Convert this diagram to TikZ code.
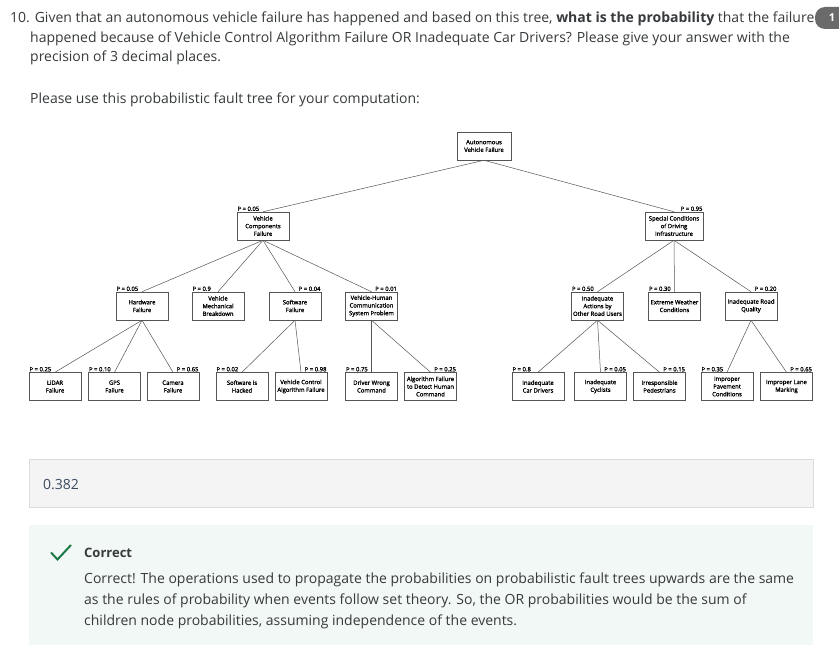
\documentclass[tikz,border=0pt]{standalone}
\usepackage{fontspec}
\setmainfont{Open Sans}
\newfontfamily\treefont[FakeBold=1.3]{Open Sans}
\definecolor{bodytxt}{HTML}{373A3C}
\definecolor{answertxt}{HTML}{3A4A5E}
\definecolor{answerbg}{HTML}{F4F4F4}
\definecolor{answerborder}{HTML}{DCDCDC}
\definecolor{feedbg}{HTML}{F2F8F5}
\definecolor{checkgreen}{HTML}{1D7A46}
\definecolor{badgegray}{HTML}{6A6A6A}
\definecolor{treeline}{HTML}{555555}
\begin{document}
\begin{tikzpicture}[x=1pt,y=-1pt,
  fbox/.style={draw=treeline, line width=0.5pt, fill=white, minimum width=52pt, minimum height=28pt,
    inner sep=0.3pt, align=center, text=black, font=\treefont\fontsize{5.9}{7.7}\selectfont},
  plab/.style={font=\treefont\fontsize{5.9}{6}\selectfont, inner sep=0.6pt, text=black},
  edge/.style={draw=treeline, line width=0.5pt},
  bodyline/.style={anchor=base west, inner sep=0pt, text=bodytxt, font=\fontsize{14}{18}\selectfont}
]
\useasboundingbox[fill=white] (0,0) rectangle (839,671);

% question text
\node[bodyline] (q1) at (10,23) {10. Given that an autonomous vehicle failure has happened and based on this tree, \textbf{what is the probability} that the failure};
\node[bodyline] (q2) at (30,42.5) {happened because of Vehicle Control Algorithm Failure OR Inadequate Car Drivers? Please give your answer with the};
\node[bodyline] (q3) at (30,62) {precision of 3 decimal places.};
\node[bodyline] (q4) at (30,104) {Please use this probabilistic fault tree for your computation:};

% badge
\fill[badgegray, rounded corners=10pt] (815,7) rectangle (860,29);
\node[text=white, font=\fontsize{11}{12}\selectfont\bfseries, inner sep=0pt] (badge) at (832,18) {1};

% tree nodes
\node[fbox, minimum width=54pt] (root) at (484,146) {Autonomous\\Vehicle Failure};
\node[fbox] (vcf) at (263,226) {Vehicle\\Components\\Failure};
\node[fbox, minimum width=58pt] (scdi) at (674,226) {Special Conditions\\of Driving\\Infrastructure};

\node[fbox] (hw) at (142,306) {Hardware\\Failure};
\node[fbox] (vmb) at (218,306) {Vehicle\\Mechanical\\Breakdown};
\node[fbox] (sf) at (295,306) {Software\\Failure};
\node[fbox] (vhc) at (371.5,306) {Vehicle-Human\\Communication\\System Problem};
\node[fbox] (iaoru) at (597.5,306) {Inadequate\\Actions by\\Other Road Users};
\node[fbox] (ew) at (674.5,306) {Extreme Weather\\Conditions};
\node[fbox] (irq) at (751,306) {Inadequate Road\\Quality};

\node[fbox] (lidar) at (55,386.5) {LiDAR\\Failure};
\node[fbox] (gps) at (114.5,386.5) {GPS\\Failure};
\node[fbox] (cam) at (173,386.5) {Camera\\Failure};
\node[fbox] (sih) at (242,386.5) {Software is\\Hacked};
\node[fbox] (vcaf) at (301,386.5) {Vehicle Control\\Algorithm Failure};
\node[fbox] (dwc) at (371.5,386.5) {Driver Wrong\\Command};
\node[fbox] (afd) at (430.5,386.5) {Algorithm Failure\\to Detect Human\\Command};
\node[fbox] (icd) at (538,386.5) {Inadequate\\Car Drivers};
\node[fbox] (ic) at (600.5,386.5) {Inadequate\\Cyclists};
\node[fbox] (ip) at (659.5,386.5) {Irresponsible\\Pedestrians};
\node[fbox] (ipc) at (727,386.5) {Improper\\Pavement\\Conditions};
\node[fbox] (ilm) at (786.5,386.5) {Improper Lane\\Marking};

% edges
\foreach \p/\c in {root/vcf, root/scdi,
  vcf/hw, vcf/vmb, vcf/sf, vcf/vhc,
  scdi/iaoru, scdi/ew, scdi/irq,
  hw/lidar, hw/gps, hw/cam,
  sf/sih, sf/vcaf,
  vhc/dwc, vhc/afd,
  iaoru/icd, iaoru/ic, iaoru/ip,
  irq/ipc, irq/ilm}
  \draw[edge] (\p.south) -- (\c.north);

% probability labels, left side
\foreach \n/\t in {vcf/0.05, hw/0.05, vmb/0.9, lidar/0.25, gps/0.10, sih/0.02, dwc/0.75,
  iaoru/0.50, ew/0.30, icd/0.8, ipc/0.35}
  \node[plab, anchor=south west] (l\n) at (\n.north west) {P = \t};
% probability labels, right side
\foreach \n/\t in {scdi/0.95, sf/0.04, vhc/0.01, cam/0.65, vcaf/0.98, afd/0.25,
  irq/0.20, ic/0.05, ip/0.15, ilm/0.65}
  \node[plab, anchor=south east] (l\n) at (\n.north east) {P = \t};

% answer box
\draw[answerborder, fill=answerbg, line width=0.8pt] (29,459) rectangle (813,507);
\node[anchor=base west, inner sep=0pt, text=answertxt, font=\fontsize{14}{16}\selectfont] (ans) at (43,489) {0.382};

% feedback box
\fill[feedbg] (29,525) rectangle (813,645);
\draw[checkgreen, line width=2pt] (51,552.5) -- (57.5,559.5) -- (71,545);
\node[bodyline, font=\fontsize{13}{16}\selectfont\bfseries] (corr) at (84,557.5) {Correct};
\node[bodyline] (f1) at (84,583) {Correct! The operations used to propagate the probabilities on probabilistic fault trees upwards are the same};
\node[bodyline] (f2) at (84,604) {as the rules of probability when events follow set theory. So, the OR probabilities would be the sum of};
\node[bodyline] (f3) at (84,625) {children node probabilities, assuming independence of the events.};
\end{tikzpicture}
\end{document}
